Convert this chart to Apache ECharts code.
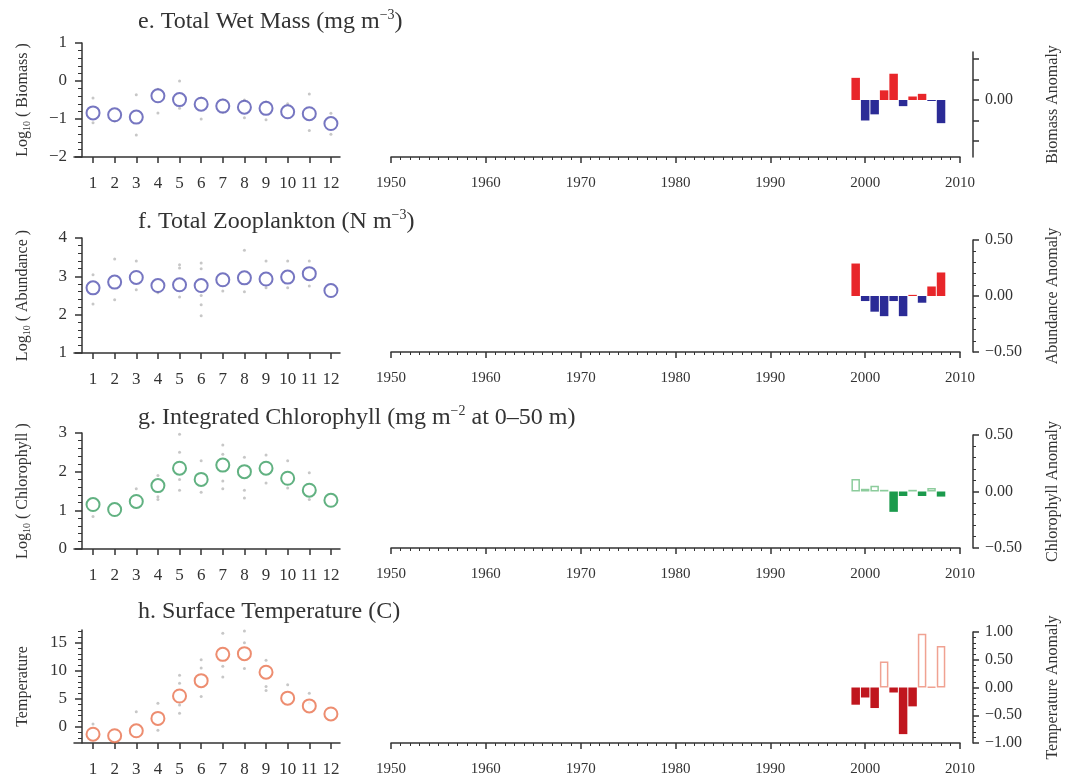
<!DOCTYPE html>
<html><head><meta charset="utf-8">
<script src="https://cdn.jsdelivr.net/npm/echarts@6/dist/echarts.min.js"></script>
<style>html,body{margin:0;padding:0;background:#fff}#c{width:1072px;height:778px}</style>
</head><body><div id="c"></div>
<script>
// ---------------- data ----------------
const months = [1,2,3,4,5,6,7,8,9,10,11,12];
const years = [1999,2000,2001,2002,2003,2004,2005,2006,2007,2008];

const biomassMean = [-0.84,-0.89,-0.95,-0.39,-0.49,-0.61,-0.66,-0.69,-0.72,-0.81,-0.86,-1.12];
const biomassObs = [[1,-0.45],[1,-1.1],[2,-1.05],[3,-0.36],[3,-1.42],[4,-0.22],[4,-0.84],[5,0.0],[5,-0.72],[6,-0.45],[6,-1.0],[7,-0.5],[7,-0.82],[8,-0.5],[8,-0.97],[9,-0.55],[9,-1.02],[10,-0.6],[11,-0.34],[11,-1.3],[12,-0.85],[12,-1.4]];
const biomassAnom = [0.108,-0.10,-0.07,0.047,0.128,-0.03,0.017,0.03,-0.005,-0.113];

const abundMean = [2.70,2.85,2.97,2.76,2.78,2.76,2.91,2.96,2.93,2.98,3.07,2.63];
const abundObs = [[1,3.04],[1,2.28],[2,3.45],[2,2.39],[3,3.4],[3,2.65],[4,2.57],[5,3.3],[5,3.22],[5,2.46],[6,3.35],[6,3.2],[6,2.5],[6,2.26],[6,1.97],[7,2.62],[8,3.68],[8,2.6],[9,3.4],[9,2.7],[10,3.4],[10,2.7],[11,3.4],[11,2.75]];
const abundAnom = [0.29,-0.045,-0.14,-0.18,-0.045,-0.18,0.01,-0.06,0.085,0.21];

const chlMean = [1.15,1.02,1.23,1.64,2.09,1.80,2.17,2.00,2.09,1.83,1.52,1.26];
const chlObs = [[1,0.84],[3,1.56],[4,1.9],[4,1.35],[4,1.28],[5,2.97],[5,2.5],[5,1.8],[5,1.52],[6,2.28],[6,1.47],[7,2.69],[7,2.45],[7,1.76],[7,1.56],[8,2.37],[8,1.52],[8,1.32],[9,2.43],[9,1.71],[10,2.28],[10,1.58],[11,1.97],[11,1.28]];
const chlAnom = [0.11,0.024,0.05,0.015,-0.18,-0.04,0.015,-0.04,0.03,-0.045];

const tempMean = [-1.33,-1.6,-0.72,1.5,5.5,8.25,12.95,13.07,9.76,5.12,3.73,2.29];
const tempObs = [[1,0.5],[3,2.7],[4,4.2],[4,-0.6],[5,9.2],[5,7.8],[5,3.9],[5,2.4],[6,12],[6,10.5],[6,5.4],[7,16.7],[7,10.8],[7,8.9],[8,17.1],[8,15],[8,10.4],[9,11.9],[9,7.2],[9,6.5],[10,7.5],[11,6],[11,4.3]];
const tempAnom = [-0.31,-0.18,-0.37,0.47,-0.09,-0.84,-0.34,0.97,0.01,0.75];
const tempMajor = [0,5,10,15];
const tempMinor = [-2,-1,1,2,3,4,6,7,8,9,11,12,13,14,16,17];

// ---------------- layout / style ----------------
const FONT = "'Liberation Serif','DejaVu Serif',serif";
const INK = '#333';
const minus = v => String(v).replace('-', '\u2212');
const fmt2 = v => minus((Math.abs(v) < 1e-9 ? 0 : v).toFixed(2));

const titleRich = {
  t: {fontFamily: FONT, fontSize: 24, fontWeight: 'normal', color: INK, lineHeight: 28},
  sup: {fontFamily: FONT, fontSize: 14, fontWeight: 'normal', color: INK, lineHeight: 14, verticalAlign: 'top'}
};
const nameRich = {
  a: {fontFamily: FONT, fontSize: 16, color: INK, lineHeight: 18},
  s: {fontFamily: FONT, fontSize: 10, color: INK, lineHeight: 10, verticalAlign: 'bottom'}
};

const rows = [
  {title: '{t|e. Total Wet Mass (mg m}{sup|\u22123}{t|)}', tTop: 8,
   L: {top: 43, height: 114, min: -2, max: 1}, lname: '{a|Log}{s|10}{a| ( Biomass )}',
   mean: biomassMean, obs: biomassObs, mc: '#5454b2',
   R: {top: 52, height: 105, min: -0.278, max: 0.234, ticks: [-0.2,-0.1,0,0.1,0.2], labels: [0]},
   rname: 'Biomass Anomaly', anom: biomassAnom,
   pos: {color: '#e8262a'}, neg: {color: '#2b2b96'}},
  {title: '{t|f. Total Zooplankton (N m}{sup|\u22123}{t|)}', tTop: 208,
   L: {top: 238, height: 115, min: 1, max: 4}, lname: '{a|Log}{s|10}{a| ( Abundance )}',
   mean: abundMean, obs: abundObs, mc: '#5454b2',
   R: {top: 240, height: 112, min: -0.5, max: 0.5},
   rname: 'Abundance Anomaly', anom: abundAnom,
   pos: {color: '#e8262a'}, neg: {color: '#2b2b96'}},
  {title: '{t|g. Integrated Chlorophyll (mg m}{sup|\u22122}{t| at 0\u201350 m)}', tTop: 404,
   L: {top: 433, height: 116, min: 0, max: 3}, lname: '{a|Log}{s|10}{a| ( Chlorophyll )}',
   mean: chlMean, obs: chlObs, mc: '#3a9e62',
   R: {top: 435, height: 113, min: -0.5, max: 0.5},
   rname: 'Chlorophyll Anomaly', anom: chlAnom,
   pos: {color: '#ffffff', borderColor: '#8ccc9c', borderWidth: 1.5}, neg: {color: '#1b9a4c'}},
  {title: '{t|h. Surface Temperature (C)}', tTop: 598,
   L: {top: 630, height: 113, min: -2.9, max: 17.3, custom: true}, lname: '{a|Temperature}',
   mean: tempMean, obs: tempObs, mc: '#e8714c',
   R: {top: 632, height: 111, min: -1, max: 1},
   rname: 'Temperature Anomaly', anom: tempAnom,
   pos: {color: '#ffffff', borderColor: '#f0a292', borderWidth: 1.5}, neg: {color: '#c0161e'}}
];

const lineStyle = {color: INK, width: 1.5};
const option = {
  backgroundColor: '#fff', animation: false,
  title: [], grid: [], xAxis: [], yAxis: [], series: []
};

rows.forEach((r, i) => {
  option.title.push({text: r.title, left: 138, top: r.tTop, padding: 0,
    textStyle: {fontWeight: 'normal', rich: titleRich}});

  // ----- left panel: monthly climatology -----
  const gL = option.grid.length;
  option.grid.push({left: 74, width: 266, top: r.L.top, height: r.L.height});
  const xL = option.xAxis.length;
  option.xAxis.push({type: 'value', gridIndex: gL, min: 0.12, max: 12.42,
    axisLine: {onZero: false, lineStyle},
    axisTick: {customValues: months, length: 6, lineStyle},
    axisLabel: {customValues: months, fontFamily: FONT, fontSize: 17, color: INK, margin: 18},
    splitLine: {show: false}});
  const yL = option.yAxis.length;
  const yMain = {type: 'value', gridIndex: gL, position: 'left', min: r.L.min, max: r.L.max, offset: -8,
    axisLine: {show: true, onZero: false, lineStyle},
    axisTick: {show: true, length: 7, lineStyle},
    axisLabel: {fontFamily: FONT, fontSize: 17, color: INK, margin: 15, formatter: minus},
    splitLine: {show: false},
    name: r.lname, nameLocation: 'middle', nameRotate: 90, nameGap: 50,
    nameTextStyle: {rich: nameRich}};
  if (r.L.custom) {
    yMain.axisTick.customValues = tempMajor;
    yMain.axisLabel.customValues = tempMajor;
  } else {
    yMain.interval = 1;
    yMain.minorTick = {show: true, splitNumber: 5, length: 4, lineStyle: {color: INK, width: 1}};
  }
  option.yAxis.push(yMain);
  if (r.L.custom) {
    option.yAxis.push({type: 'value', gridIndex: gL, position: 'left', min: r.L.min, max: r.L.max, offset: -8,
      axisLine: {show: false, onZero: false},
      axisTick: {show: true, customValues: tempMinor, length: 4, lineStyle: {color: INK, width: 1}},
      axisLabel: {show: false}, splitLine: {show: false}});
  }
  option.series.push({type: 'scatter', xAxisIndex: xL, yAxisIndex: yL, z: 2,
    symbol: 'circle', symbolSize: 3, itemStyle: {color: '#b9b9b9'},
    data: r.obs});
  option.series.push({type: 'scatter', xAxisIndex: xL, yAxisIndex: yL, z: 3,
    symbol: 'emptyCircle', symbolSize: 13,
    itemStyle: {color: r.mc, borderWidth: 2},
    data: months.map((m, k) => [m, r.mean[k]])});

  // ----- right panel: annual anomalies -----
  const gR = option.grid.length;
  option.grid.push({left: 391, width: 569, top: r.R.top, height: r.R.height});
  const xR = option.xAxis.length;
  option.xAxis.push({type: 'value', gridIndex: gR, min: 1950, max: 2010, interval: 10,
    axisLine: {onZero: false, lineStyle},
    axisTick: {length: 6, lineStyle},
    minorTick: {show: true, splitNumber: 10, length: 3, lineStyle: {color: INK, width: 1}},
    axisLabel: {fontFamily: FONT, fontSize: 15, color: INK, margin: 19, formatter: v => String(v)},
    splitLine: {show: false}});
  const yR = option.yAxis.length;
  const yRight = {type: 'value', gridIndex: gR, position: 'right', offset: 13,
    min: r.R.min, max: r.R.max,
    axisLine: {show: true, onZero: false, lineStyle},
    axisTick: {show: true, length: 6, lineStyle},
    axisLabel: {fontFamily: FONT, fontSize: 16, color: INK, margin: 12, formatter: fmt2},
    splitLine: {show: false},
    name: r.rname, nameLocation: 'middle', nameRotate: 90, nameGap: 72,
    nameTextStyle: {fontFamily: FONT, fontSize: 16, color: INK}};
  if (r.R.ticks) {
    yRight.axisTick.customValues = r.R.ticks;
    yRight.axisLabel.customValues = r.R.labels;
  } else {
    yRight.interval = 0.5;
    yRight.minorTick = {show: true, splitNumber: 5, length: 3, lineStyle: {color: INK, width: 1}};
  }
  option.yAxis.push(yRight);
  option.series.push({type: 'bar', xAxisIndex: xR, yAxisIndex: yR, barWidth: 8.5,
    data: years.map((y, k) => ({value: [y, r.anom[k]],
      itemStyle: r.anom[k] >= 0 ? r.pos : r.neg}))});
});

const chart = echarts.init(document.getElementById('c'), null, {renderer: 'canvas'});
chart.setOption(option);
</script>
</body></html>
